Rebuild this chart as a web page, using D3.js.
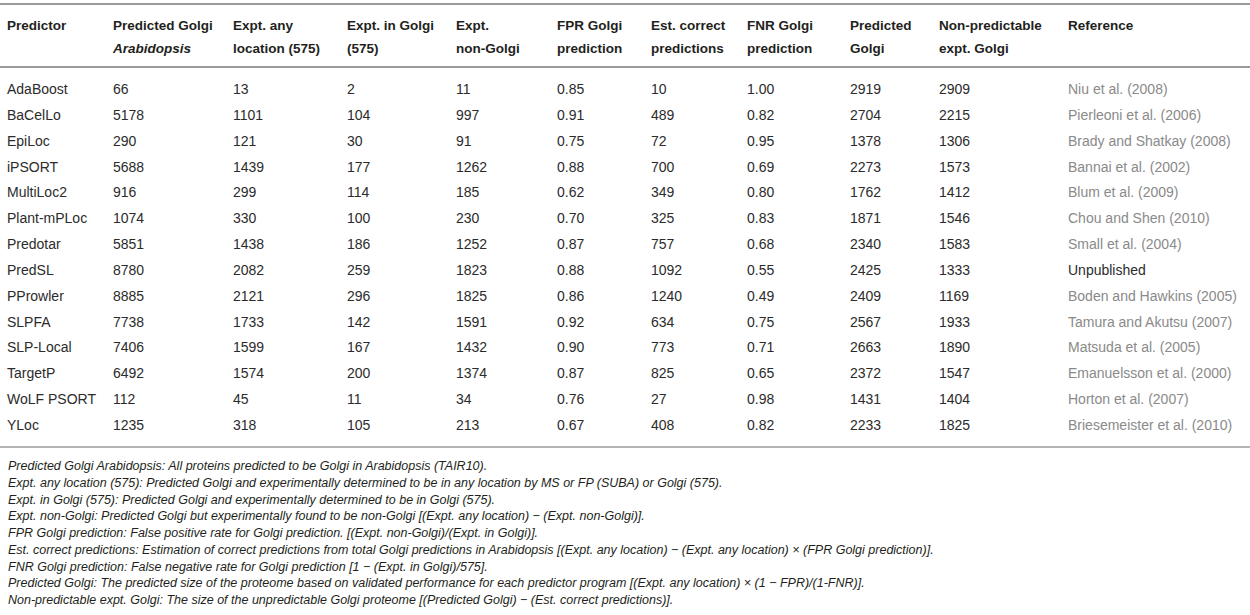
<!DOCTYPE html>
<html>
<head>
<meta charset="utf-8">
<script src="https://cdn.jsdelivr.net/npm/d3@7"></script>
<style>
    body { margin: 0; background: #fff; }
    svg text { font-family: "Liberation Sans", Arial, sans-serif; }
</style>
</head>
<body>
<svg id="golgi-table" width="1250" height="615"></svg>
<script>
// table values
var predictors = ["AdaBoost", "BaCelLo", "EpiLoc", "iPSORT", "MultiLoc2", "Plant-mPLoc", "Predotar",
    "PredSL", "PProwler", "SLPFA", "SLP-Local", "TargetP", "WoLF PSORT", "YLoc"];
var predictedGolgiArabidopsis = [66, 5178, 290, 5688, 916, 1074, 5851, 8780, 8885, 7738, 7406, 6492, 112, 1235];
var exptAnyLocation = [13, 1101, 121, 1439, 299, 330, 1438, 2082, 2121, 1733, 1599, 1574, 45, 318];
var exptInGolgi = [2, 104, 30, 177, 114, 100, 186, 259, 296, 142, 167, 200, 11, 105];
var exptNonGolgi = [11, 997, 91, 1262, 185, 230, 1252, 1823, 1825, 1591, 1432, 1374, 34, 213];
var fprGolgi = [0.85, 0.91, 0.75, 0.88, 0.62, 0.70, 0.87, 0.88, 0.86, 0.92, 0.90, 0.87, 0.76, 0.67];
var estCorrect = [10, 489, 72, 700, 349, 325, 757, 1092, 1240, 634, 773, 825, 27, 408];
var fnrGolgi = [1.00, 0.82, 0.95, 0.69, 0.80, 0.83, 0.68, 0.55, 0.49, 0.75, 0.71, 0.65, 0.98, 0.82];
var predictedGolgi = [2919, 2704, 1378, 2273, 1762, 1871, 2340, 2425, 2409, 2567, 2663, 2372, 1431, 2233];
var nonPredictable = [2909, 2215, 1306, 1573, 1412, 1546, 1583, 1333, 1169, 1933, 1890, 1547, 1404, 1825];
var references = ["Niu et al. (2008)", "Pierleoni et al. (2006)", "Brady and Shatkay (2008)", "Bannai et al. (2002)",
    "Blum et al. (2009)", "Chou and Shen (2010)", "Small et al. (2004)", "Unpublished", "Boden and Hawkins (2005)",
    "Tamura and Akutsu (2007)", "Matsuda et al. (2005)", "Emanuelsson et al. (2000)", "Horton et al. (2007)",
    "Briesemeister et al. (2010)"];

// header lines, [text, italic?] per line
var headers = [
    [["Predictor"]],
    [["Predicted Golgi"], ["Arabidopsis", true]],
    [["Expt. any"], ["location (575)"]],
    [["Expt. in Golgi"], ["(575)"]],
    [["Expt."], ["non-Golgi"]],
    [["FPR Golgi"], ["prediction"]],
    [["Est. correct"], ["predictions"]],
    [["FNR Golgi"], ["prediction"]],
    [["Predicted"], ["Golgi"]],
    [["Non-predictable"], ["expt. Golgi"]],
    [["Reference"]]
];

var footnotes = [
    "Predicted Golgi Arabidopsis: All proteins predicted to be Golgi in Arabidopsis (TAIR10).",
    "Expt. any location (575): Predicted Golgi and experimentally determined to be in any location by MS or FP (SUBA) or Golgi (575).",
    "Expt. in Golgi (575): Predicted Golgi and experimentally determined to be in Golgi (575).",
    "Expt. non-Golgi: Predicted Golgi but experimentally found to be non-Golgi [(Expt. any location) \u2212 (Expt. non-Golgi)].",
    "FPR Golgi prediction: False positive rate for Golgi prediction. [(Expt. non-Golgi)/(Expt. in Golgi)].",
    "Est. correct predictions: Estimation of correct predictions from total Golgi predictions in Arabidopsis [(Expt. any location) \u2212 (Expt. any location) \u00d7 (FPR Golgi prediction)].",
    "FNR Golgi prediction: False negative rate for Golgi prediction [1 \u2212 (Expt. in Golgi)/575].",
    "Predicted Golgi: The predicted size of the proteome based on validated performance for each predictor program [(Expt. any location) \u00d7 (1 \u2212 FPR)/(1-FNR)].",
    "Non-predictable expt. Golgi: The size of the unpredictable Golgi proteome [(Predicted Golgi) \u2212 (Est. correct predictions)]."
];

GolgiTable = function (_parentElement) {
    this.parentElement = _parentElement;
    this.width = 1250;
    this.height = 615;
    this.initVis();
}

GolgiTable.prototype.initVis = function () {
    var vis = this;
    vis.svg = d3.select("#" + vis.parentElement);

    // one column per header, left edges
    vis.columns = d3.range(headers.length);
    vis.xScale = d3.scaleOrdinal()
        .domain(vis.columns)
        .range([7, 113, 233, 347, 456, 557, 651, 747, 850, 939, 1068]);

    vis.yScale = d3.scalePoint()
        .domain(predictors)
        .range([89, 425]);

    vis.noteScale = d3.scalePoint()
        .domain(d3.range(footnotes.length))
        .range([466, 600]);

    vis.wrangleData();
}

GolgiTable.prototype.wrangleData = function () {
    var vis = this;
    var fmt2 = d3.format(".2f");
    vis.rows = predictors.map(function (p, i) {
        return [p, predictedGolgiArabidopsis[i], exptAnyLocation[i], exptInGolgi[i], exptNonGolgi[i],
            fmt2(fprGolgi[i]), estCorrect[i], fmt2(fnrGolgi[i]), predictedGolgi[i], nonPredictable[i], references[i]];
    });
    vis.updateVis();
}

GolgiTable.prototype.updateVis = function () {
    var vis = this;
    var svg = vis.svg;
    svg.selectAll("*").remove();

    // rules
    var rules = [{y: 4, w: 2}, {y: 67, w: 2}, {y: 447, w: 1.5}];
    svg.selectAll("line.rule")
        .data(rules)
        .enter()
        .append("line")
        .attr("class", "rule")
        .attr("x1", 0)
        .attr("x2", vis.width)
        .attr("y1", function (d) { return d.y; })
        .attr("y2", function (d) { return d.y; })
        .attr("stroke", "#9a9a9a")
        .attr("stroke-width", function (d) { return d.w; });

    // header
    var head = svg.append("g").attr("class", "header");
    vis.columns.forEach(function (c) {
        head.selectAll(null)
            .data(headers[c])
            .enter()
            .append("text")
            .attr("x", vis.xScale(c))
            .attr("y", function (d, j) { return 25 + j * 23; })
            .attr("dominant-baseline", "central")
            .attr("font-size", 13.5)
            .attr("font-weight", "bold")
            .attr("font-style", function (d) { return d[1] ? "italic" : "normal"; })
            .attr("fill", "#231f20")
            .text(function (d) { return d[0]; });
    });

    // body
    var rowG = svg.selectAll("g.row")
        .data(vis.rows)
        .enter()
        .append("g")
        .attr("class", "row")
        .attr("transform", function (d) { return "translate(0," + vis.yScale(d[0]) + ")"; });

    rowG.selectAll("text")
        .data(function (d) { return d; })
        .enter()
        .append("text")
        .attr("x", function (d, i) { return vis.xScale(i); })
        .attr("y", 0)
        .attr("dominant-baseline", "central")
        .attr("font-size", 14)
        .attr("fill", function (d, i) {
            return (i === 10 && d !== "Unpublished") ? "#8a8a8a" : "#2b2b2b";
        })
        .text(function (d) { return d; });

    // footnotes
    svg.selectAll("text.note")
        .data(footnotes)
        .enter()
        .append("text")
        .attr("class", "note")
        .attr("x", 8)
        .attr("y", function (d, i) { return vis.noteScale(i); })
        .attr("dominant-baseline", "central")
        .attr("font-size", 12.5)
        .attr("font-style", "italic")
        .attr("fill", "#231f20")
        .text(function (d) { return d; });
}

new GolgiTable("golgi-table");
</script>
</body>
</html>
